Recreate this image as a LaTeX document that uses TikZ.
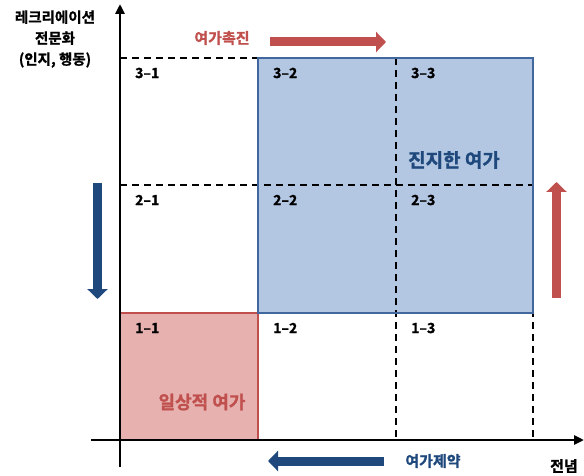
\documentclass[tikz,border=0pt]{standalone}
\usepackage{fontspec}
\setmainfont{Noto Sans CJK KR}[BoldFont={Noto Sans CJK KR Bold},BoldFeatures={FakeBold=1.2}]
\usetikzlibrary{arrows.meta}
\definecolor{leisred}{HTML}{C0504D}
\definecolor{leisblue}{HTML}{1F497D}
\definecolor{pinkfill}{HTML}{E6B1AF}
\definecolor{bluefill}{HTML}{B3C7E2}
\definecolor{blueedge}{HTML}{41689E}
\tikzset{
  cell/.style={anchor=west,inner sep=0,font=\fontsize{14pt}{14pt}\selectfont\bfseries},
  gridline/.style={line width=1.3pt,dash pattern=on 7pt off 5pt},
  fatarrow/.style={line width=9pt,-{Triangle[length=10pt,width=20pt]}},
  axisline/.style={line width=2.5pt,-{Triangle[length=10pt,width=9pt]}},
  caption/.style={inner sep=0,font=\fontsize{15pt}{16pt}\selectfont\bfseries}
}

\begin{document}
\begin{tikzpicture}[x=1pt,y=-1pt]
    \useasboundingbox (0,0) rectangle (584,476);
    \pgfmathsetmacro{\colA}{120}
    \pgfmathsetmacro{\colB}{258}
    \pgfmathsetmacro{\colC}{396}
    \pgfmathsetmacro{\colD}{533}
    \pgfmathsetmacro{\rowA}{440}
    \pgfmathsetmacro{\rowB}{313}
    \pgfmathsetmacro{\rowC}{185}
    \pgfmathsetmacro{\rowD}{58}
    % filled zones
    \fill[pinkfill] (\colA,\rowB) rectangle (\colB,\rowA);
    \fill[bluefill] (\colB,\rowD) rectangle (\colD,\rowB);
    % 3x3 grid
    \foreach \r in {\rowD,\rowC,\rowB}
        \draw[gridline] (\colA,\r) -- (\colD,\r);
    \foreach \c in {\colB,\colC,\colD}
        \draw[gridline] (\c,\rowD) -- (\c,\rowA);
    \draw[line width=2pt,leisred] (\colA,\rowB) rectangle (\colB,\rowA);
    \draw[line width=2pt,blueedge] (\colB,\rowD) rectangle (\colD,\rowB);
    % axes
    \draw[axisline] (91,\rowA) -- (584,\rowA);
    \draw[axisline] (\colA,467) -- (\colA,4);
    % cell numbers
    \foreach \n/\c in {1/\colA,2/\colB,3/\colC}{
        \node[cell] (c3\n) at (\c+15,73) {3–\n};
        \node[cell] (c2\n) at (\c+15,200) {2–\n};
        \node[cell] (c1\n) at (\c+15,328) {1–\n};
    }
    \node[caption,text=leisblue,font=\fontsize{19pt}{19pt}\selectfont\bfseries] (serious) at (454,160) {진지한 여가};
    \node[caption,text=leisred,font=\fontsize{18pt}{18pt}\selectfont\bfseries] (casual) at (202,402) {일상적 여가};
    \node[caption,align=center,font=\fontsize{14.5pt}{21pt}\selectfont\bfseries] (yaxis) at (55,39) {레크리에이션\\전문화\\(인지, 행동)};
    \node[caption] (xaxis) at (564,466) {전념};
    \node[caption,text=leisred] (promote) at (222,38) {여가촉진};
    \node[caption,text=leisblue] (restrict) at (433,461) {여가제약};
    % block arrows
    \draw[fatarrow,leisred] (270,42) -- (386,42);
    \draw[fatarrow,leisblue] (384,461) -- (268,461);
    \draw[fatarrow,leisblue] (97.5,183) -- (97.5,299);
    \draw[fatarrow,leisred] (556.5,298) -- (556.5,182);
\end{tikzpicture}
\end{document}
